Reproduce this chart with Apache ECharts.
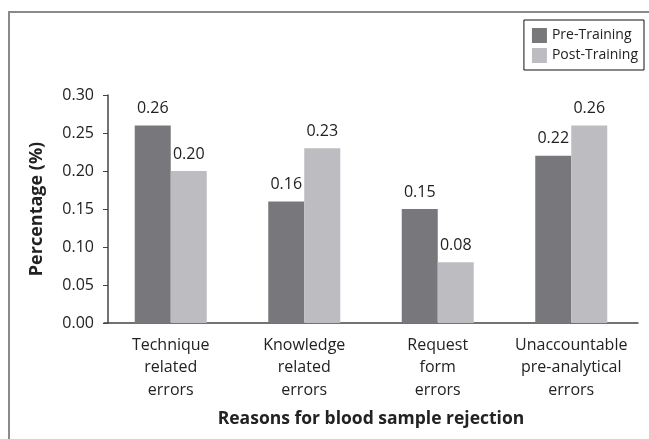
<!DOCTYPE html>
<html>
<head>
<meta charset="utf-8">
<script src="https://cdn.jsdelivr.net/npm/echarts@6/dist/echarts.min.js"></script>
<style>
  html, body { margin: 0; padding: 0; background: #fff; }
  #chart { width: 649px; height: 439px; }
</style>
</head>
<body>
<div id="chart"></div>
<script>
// reasons for rejection (x categories)
var categories = [
    'Technique\nrelated\nerrors',
    'Knowledge\nrelated\nerrors',
    'Request\nform\nerrors',
    'Unaccountable\npre-analytical\nerrors'
];
var preTraining = [0.26, 0.16, 0.15, 0.22];
var postTraining = [0.20, 0.23, 0.08, 0.26];
var yTicks = [0, 0.05, 0.10, 0.15, 0.20, 0.25, 0.30];

var font = 'Open Sans';
var chart = echarts.init(document.getElementById('chart'));

var labelOpt = {
    show: true,
    position: 'top',
    distance: 9,
    fontFamily: font,
    fontSize: 16,
    color: '#222',
    formatter: function(p) { return p.value.toFixed(2); }
};

var option = {
    animation: false,
    // outer frame of the figure
    graphic: [{
        type: 'rect',
        shape: { x: 9, y: 12, width: 700, height: 500 },
        style: { fill: 'none', stroke: '#8a8a8a', lineWidth: 2 },
        silent: true
    }],
    legend: {
        right: 5,
        top: 20,
        orient: 'vertical',
        itemWidth: 15,
        itemHeight: 15,
        itemGap: 5,
        padding: [8, 6, 7, 8],
        borderColor: '#111',
        borderWidth: 1,
        icon: 'rect',
        textStyle: { fontFamily: font, fontSize: 14, color: '#222' },
        data: ['Pre-Training', 'Post-Training']
    },
    grid: { left: 104, right: 11, top: 95, bottom: 116 },
    xAxis: {
        type: 'category',
        data: categories,
        axisLine: { lineStyle: { color: '#444', width: 1.5 } },
        axisTick: { show: false },
        axisLabel: {
            interval: 0,
            margin: 11,
            fontFamily: font,
            fontSize: 16,
            lineHeight: 22.5,
            color: '#222'
        },
        name: 'Reasons for blood sample rejection',
        nameLocation: 'middle',
        nameGap: 87,
        nameTextStyle: { fontFamily: font, fontSize: 17.5, fontWeight: 'bold', color: '#222' }
    },
    yAxis: {
        type: 'value',
        min: yTicks[0],
        max: yTicks[yTicks.length - 1],
        interval: 0.05,
        offset: -4,
        splitLine: { show: false },
        axisLine: { show: true, lineStyle: { color: '#444', width: 1.5 } },
        axisTick: { show: true, length: 5, lineStyle: { color: '#444' } },
        axisLabel: {
            margin: 14,
            fontFamily: font,
            fontSize: 16,
            color: '#222',
            formatter: function(v) { return v.toFixed(2); }
        },
        name: 'Percentage (%)',
        nameLocation: 'middle',
        nameGap: 62,
        nameTextStyle: { fontFamily: font, fontSize: 18, fontWeight: 'bold', color: '#222' }
    },
    series: [{
        name: 'Pre-Training',
        type: 'bar',
        data: preTraining,
        barWidth: 36,
        barGap: '0%',
        itemStyle: { color: '#78787c' },
        label: labelOpt
    }, {
        name: 'Post-Training',
        type: 'bar',
        data: postTraining,
        barWidth: 36,
        itemStyle: { color: '#bdbdc1' },
        label: labelOpt
    }]
};

chart.setOption(option);
</script>
</body>
</html>
